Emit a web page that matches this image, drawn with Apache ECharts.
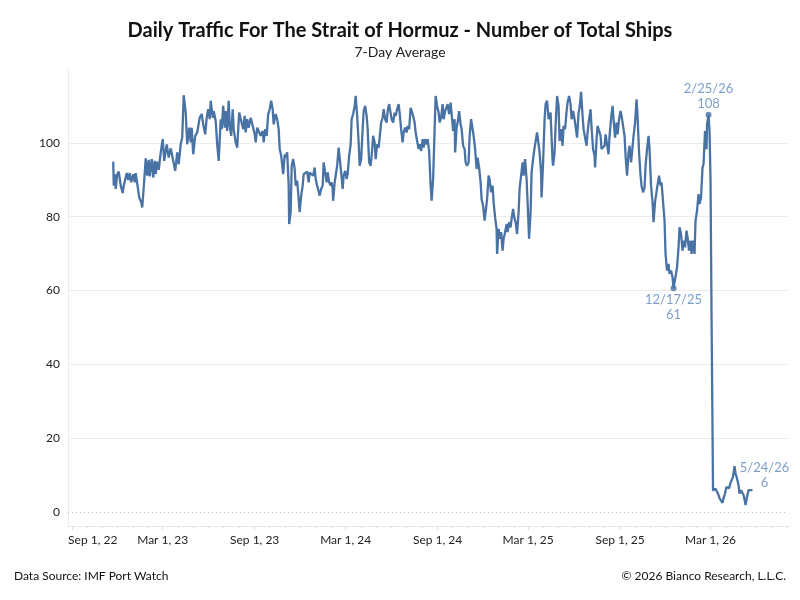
<!DOCTYPE html>
<html>
<head>
<meta charset="utf-8">
<script src="https://cdn.jsdelivr.net/npm/echarts@6/dist/echarts.min.js"></script>
<style>
  html, body { margin: 0; padding: 0; background: #fff; }
  #main { width: 800px; height: 600px; }
</style>
</head>
<body>
<div id="main"></div>
<script>
// days counted from Sep 1, 2022
var dayNum = [
  82, 83, 85, 87, 90, 93, 97, 101, 103, 106, 109, 112, 115, 118, 122, 125, 127, 130, 134, 138,
  140, 143, 147, 150, 153, 155, 159, 162, 165, 167, 170, 173, 177, 181, 184, 189, 193, 197, 201, 206,
  210, 213, 217, 220, 223, 227, 230, 234, 237, 239, 242, 246, 250, 255, 259, 262, 266, 269, 272, 275,
  277, 281, 283, 287, 290, 293,
  297, 299, 302, 305, 307, 310, 313, 315, 318, 321, 323, 327, 330, 334, 338, 342, 345, 347, 350, 353,
  357, 361, 365, 367, 370, 374, 377, 381, 383, 386, 389, 392, 395, 398, 401, 403, 407, 410, 413, 415,
  418, 421, 422, 425, 427, 430, 433, 434, 437, 439, 442, 445, 447, 450, 453, 455, 458, 461, 463, 467,
  470, 473, 475, 479, 482, 485, 487, 490, 493, 495, 498, 501, 503, 506, 509, 511, 514,
  517, 519, 521, 522, 525, 527, 530, 533, 535, 538, 541, 543, 546, 549, 551, 554, 557, 559, 562, 565,
  567, 570, 573, 575, 578, 581, 583, 586, 589, 591, 594, 597, 599, 602, 605, 607, 610, 613, 615, 618,
  621, 623, 626, 629, 631, 634, 637, 639, 642, 645, 647, 650, 653, 655, 658, 661, 663, 666, 669, 671,
  674, 677, 679, 682, 685, 687, 690, 693, 695, 698, 701, 703, 706, 709, 711, 714, 717, 719, 722, 725,
  727, 730, 733,
  735, 738, 741, 743, 746, 749, 751, 754, 757, 759, 762, 765, 766, 769, 771, 774, 777, 779, 782, 785,
  787, 790, 793, 795, 798, 801, 803, 806, 809, 811, 814, 817, 819, 822, 825, 827, 830, 833, 835, 838,
  841, 843, 846, 849, 850, 853, 855, 858, 861, 863, 866, 869, 871, 874, 877, 879, 882, 885, 887, 890,
  893, 895, 898, 901, 903, 906, 909, 911, 914, 917, 919, 922, 925, 927, 930, 933, 935, 938, 939, 942,
  945, 947, 950, 953,
  957, 958, 961, 962, 965, 967, 970, 973, 975, 978, 981, 983, 986, 989, 991, 994, 997, 999, 1002, 1005,
  1007, 1010, 1013, 1015, 1018, 1021, 1023, 1026, 1029, 1031, 1034, 1037, 1039, 1042, 1045, 1046, 1049, 1051, 1054, 1057,
  1059, 1062, 1065, 1067, 1070, 1073, 1075, 1077, 1079, 1081, 1083, 1086, 1089, 1091, 1094, 1097, 1099, 1102, 1105, 1107,
  1110, 1113, 1115, 1118, 1121, 1123, 1126, 1129, 1131, 1134, 1137, 1139, 1142, 1145, 1147, 1150, 1153, 1155, 1158, 1161,
  1163, 1166, 1169, 1171, 1174,
  1177, 1179, 1182, 1185, 1187, 1190, 1193, 1195, 1198, 1201, 1203, 1205, 1207, 1210, 1213, 1215, 1218, 1221, 1223, 1226,
  1229, 1231, 1234, 1237, 1239, 1242, 1245, 1247, 1250, 1253, 1255, 1258, 1261, 1263, 1266, 1269, 1270, 1273, 1275, 1277,
  1279, 1282,
  1287, 1290, 1293, 1295, 1298, 1301, 1303, 1306, 1309, 1311, 1314, 1317, 1319, 1322, 1325, 1327, 1330, 1333, 1335, 1338,
  1341, 1343, 1346, 1347, 1350, 1353, 1355, 1358, 1361
];
var ships = [
  94.9, 88.4, 91.5, 87.5, 91.5, 92.2, 88.4, 86.4, 88.4, 88.8, 91.8, 89.9, 91.8, 89.3, 91.5, 89.3, 91.8, 91.3, 85.2, 83.9,
  82.5, 87.9, 95.8, 91.1, 95.4, 90.9, 95.6, 90.6, 95.1, 91.5, 94.9, 92.7, 97.4, 101.0, 95.1, 99.6, 96.0, 98.5, 95.8, 92.4,
  97.4, 94.2, 99.6, 101.4, 112.9, 108.2, 99.6, 104.1, 100.1, 104.1, 96.9, 101.9, 102.8, 106.8, 107.8, 105.0, 102.3, 106.8, 109.1, 106.4,
  111.4, 106.8, 108.6, 105.9, 99.6, 95.1,
  106.4, 103.7, 110.0, 104.1, 108.6, 103.2, 111.4, 104.6, 101.9, 109.1, 103.7, 100.1, 98.7, 108.2, 108.6, 103.7, 107.3, 102.8, 106.4, 104.1,
  106.8, 104.6, 102.3, 100.1, 104.1, 104.6, 101.9, 103.2, 100.1, 103.7, 101.9, 107.8, 109.1, 111.4, 109.1, 105.0, 107.8, 106.4, 103.7, 98.3,
  96.5, 96.9, 91.5, 96.9, 96.0, 97.4, 88.4, 78.0, 81.2, 93.8, 95.6, 92.9, 88.4, 89.8, 84.8, 81.2, 85.7, 88.4, 91.5, 91.1,
  92.2, 89.3, 91.9, 91.5, 91.1, 93.3, 90.2, 88.4, 86.8, 85.7, 87.5, 88.4, 94.7, 92.0, 89.3, 92.0, 89.3,
  88.4, 89.3, 87.5, 84.3, 89.3, 89.8, 93.8, 98.7, 96.0, 92.0, 87.5, 91.1, 92.4, 90.2, 91.5, 96.5, 99.6, 106.4, 107.8, 110.0,
  112.7, 107.3, 100.1, 93.8, 95.6, 103.7, 108.6, 110.0, 107.3, 103.7, 94.7, 93.8, 96.5, 101.9, 100.1, 95.6, 99.6, 98.7, 101.4, 105.5,
  106.8, 109.1, 106.4, 105.5, 108.6, 110.5, 110.9, 106.4, 105.5, 108.2, 107.3, 109.1, 110.5, 108.2, 103.7, 100.1, 102.8, 104.1, 102.8, 104.6,
  103.7, 109.5, 109.1, 107.3, 105.5, 102.8, 100.5, 98.3, 99.6, 97.8, 101.0, 98.7, 101.0, 99.6, 101.0, 97.8, 88.4, 84.3, 90.2, 103.7,
  112.7, 110.0, 108.2,
  105.5, 106.8, 110.5, 106.4, 108.6, 108.2, 110.5, 107.8, 110.9, 111.4, 103.2, 106.4, 97.4, 104.1, 105.5, 108.6, 105.0, 103.7, 99.2, 98.3,
  94.7, 93.8, 94.7, 101.9, 106.4, 106.8, 101.9, 98.3, 92.9, 96.0, 93.3, 89.3, 84.8, 82.9, 78.9, 81.2, 84.8, 91.1, 90.2, 86.6,
  88.4, 83.9, 79.8, 76.7, 69.9, 76.7, 74.0, 75.8, 70.8, 74.0, 75.8, 78.0, 75.8, 78.5, 77.1, 79.4, 82.1, 79.4, 78.5, 75.3,
  81.2, 87.5, 91.1, 94.7, 91.1, 95.6, 90.2, 83.9, 74.0, 81.2, 92.0, 95.6, 98.7, 98.3, 102.8, 99.6, 97.4, 92.0, 85.2, 94.7,
  106.4, 110.5, 111.4, 106.4,
  108.2, 104.6, 95.1, 93.8, 97.4, 104.6, 112.7, 110.0, 100.5, 103.7, 99.2, 104.6, 103.7, 108.6, 110.9, 112.7, 110.5, 106.4, 108.6, 106.4,
  106.8, 101.4, 108.2, 109.5, 113.8, 107.3, 103.7, 101.4, 99.2, 102.8, 106.4, 109.1, 104.1, 98.3, 96.5, 93.3, 101.0, 104.6, 104.1, 101.9,
  98.3, 98.7, 99.2, 102.3, 99.6, 96.9, 101.9, 105.0, 107.8, 110.0, 106.4, 101.4, 105.5, 102.3, 106.4, 108.6, 107.3, 104.6, 101.9, 96.5,
  91.1, 97.4, 99.2, 94.7, 94.2, 101.9, 105.5, 111.8, 107.3, 97.4, 91.1, 88.4, 86.6, 87.9, 93.8, 98.3, 101.9, 98.3, 88.4, 83.9,
  78.5, 84.0, 86.8, 88.6, 91.1,
  88.4, 89.3, 88.8, 78.9, 69.9, 65.4, 67.2, 64.5, 65.4, 63.6, 60.6, 62.2, 62.7, 66.3, 71.7, 77.1, 75.3, 70.8, 73.5, 71.7,
  76.2, 74.4, 70.8, 73.5, 69.9, 73.5, 69.9, 78.9, 81.6, 86.1, 83.4, 85.2, 93.3, 94.2, 103.2, 98.3, 105.0, 107.6, 103.2, 89.7,
  53.8, 5.8,
  6.3, 5.5, 4.6, 3.7, 3.1, 2.5, 3.7, 5.0, 6.8, 7.3, 6.4, 7.9, 7.8, 9.5, 12.4, 10.5, 9.1, 7.3, 5.0, 5.9,
  5.5, 4.6, 2.8, 1.9, 4.1, 5.9, 5.5, 5.9, 5.9
];

// annotated points
var noteDays = [1203, 1273, 1361];
var noteTexts = ['12/17/25', '2/25/26', '5/24/26'];

// x axis labels
var labelDates = [[2022, 8], [2023, 2], [2023, 8], [2024, 2], [2024, 8], [2025, 2], [2025, 8], [2026, 2]];
var tickLabels = ['Sep 1, 22', 'Mar 1, 23', 'Sep 1, 23', 'Mar 1, 24', 'Sep 1, 24', 'Mar 1, 25', 'Sep 1, 25', 'Mar 1, 26'];
var yLabels = [0, 20, 40, 60, 80, 100];

var DAY = 864e5;
var START = Date.UTC(2022, 8, 1);
function dayOf(y, m) { return Math.round((Date.UTC(y, m, 1) - START) / DAY); }

var labelDays = labelDates.map(function (m) { return dayOf(m[0], m[1]); });
var monthDays = [];
for (var y = 2022, m = 8; y < 2026 || m <= 7; m++) {
  if (m > 11) { m = 0; y++; }
  monthDays.push(dayOf(y, m));
}

var LINE = '#4a73a5';
var NOTE = '#5b86bb';
var FONT = 'Lato';

var lineData = dayNum.map(function (d, i) { return [d, ships[i]]; });
var noteData = noteDays.map(function (d, i) {
  var v = ships[dayNum.indexOf(d)];
  var item = { value: [d, v], label: { position: 'top', distance: 0 } };
  if (i === 0) item.label = { position: 'bottom', distance: 1 };
  if (i === 2) { item.symbolSize = 0; item.label = { position: 'top', distance: 0, offset: [12, 0] }; }
  return item;
});

var gridLines = yLabels.map(function (v) {
  return {
    yAxis: v,
    lineStyle: v === 0 ? { color: '#bdbdbd', type: [1, 3], width: 1 } : { color: '#ececec', type: 'solid', width: 1 }
  };
});

var option = {
  animation: false,
  backgroundColor: '#fff',
  textStyle: { fontFamily: FONT },
  title: [
    { text: 'Daily Traffic For The Strait of Hormuz - Number of Total Ships', left: 'center', top: 21, padding: 0,
      textStyle: { fontFamily: FONT, fontSize: 20, fontWeight: 'bold', color: '#111' } },
    { text: '7-Day Average', left: 'center', top: 45, padding: 0,
      textStyle: { fontFamily: FONT, fontSize: 14, fontWeight: 'normal', color: '#222' } },
    { text: 'Data Source: IMF Port Watch', left: 14, top: 570, padding: 0,
      textStyle: { fontFamily: FONT, fontSize: 12, fontWeight: 'normal', color: '#111' } },
    { text: '\u00A9 2026 Bianco Research, L.L.C.', right: 14, top: 570, padding: 0,
      textStyle: { fontFamily: FONT, fontSize: 12, fontWeight: 'normal', color: '#111' } }
  ],
  grid: { left: 68, right: 12, top: 69, bottom: 74, containLabel: false },
  xAxis: [{
    type: 'value',
    min: -8.5,
    max: 1432,
    splitLine: { show: false },
    axisLine: { onZero: false, lineStyle: { color: '#e6e6e6' } },
    axisTick: { show: true, customValues: labelDays, length: 4, lineStyle: { color: '#dcdcdc' } },
    axisLabel: {
      customValues: labelDays,
      margin: 8,
      fontFamily: FONT,
      fontSize: 12,
      color: '#222',
      formatter: function (val) {
        var i = labelDays.indexOf(val);
        if (i === 0) return '{first|' + tickLabels[0] + '}';
        return i >= 0 ? tickLabels[i] : '';
      },
      rich: { first: { padding: [0, 0, 0, 41], fontFamily: FONT, fontSize: 12, color: '#222' } }
    }
  }, {
    type: 'value',
    min: -8.5,
    max: 1432,
    position: 'bottom',
    splitLine: { show: false },
    axisLine: { show: false, onZero: false },
    axisTick: { show: true, customValues: monthDays, length: 2.5, lineStyle: { color: '#dcdcdc' } },
    axisLabel: { show: false }
  }],
  yAxis: {
    type: 'value',
    min: -3.8,
    max: 120,
    splitLine: { show: false },
    axisTick: { show: false },
    axisLine: { show: true, onZero: false, lineStyle: { color: '#ececec' } },
    axisLabel: { customValues: yLabels, margin: 8, fontFamily: FONT, fontSize: 12, color: '#222' }
  },
  series: [{
    type: 'line',
    data: [],
    silent: true,
    markLine: { z: 1, silent: true, symbol: ['none', 'none'], label: { show: false }, data: gridLines }
  }, {
    type: 'line',
    z: 3,
    data: lineData,
    showSymbol: false,
    lineStyle: { color: LINE, width: 2.3 },
    itemStyle: { color: LINE }
  }, {
    type: 'scatter',
    z: 4,
    data: noteData,
    symbol: 'circle',
    symbolSize: 6,
    itemStyle: { color: LINE },
    label: {
      show: true,
      color: NOTE,
      fontFamily: FONT,
      fontSize: 13,
      lineHeight: 15,
      formatter: function (p) { return noteTexts[p.dataIndex] + '\n' + Math.round(p.value[1]); }
    }
  }]
};

var myChart = echarts.init(document.getElementById('main'), null, { renderer: 'canvas' });
myChart.setOption(option);
</script>
</body>
</html>
